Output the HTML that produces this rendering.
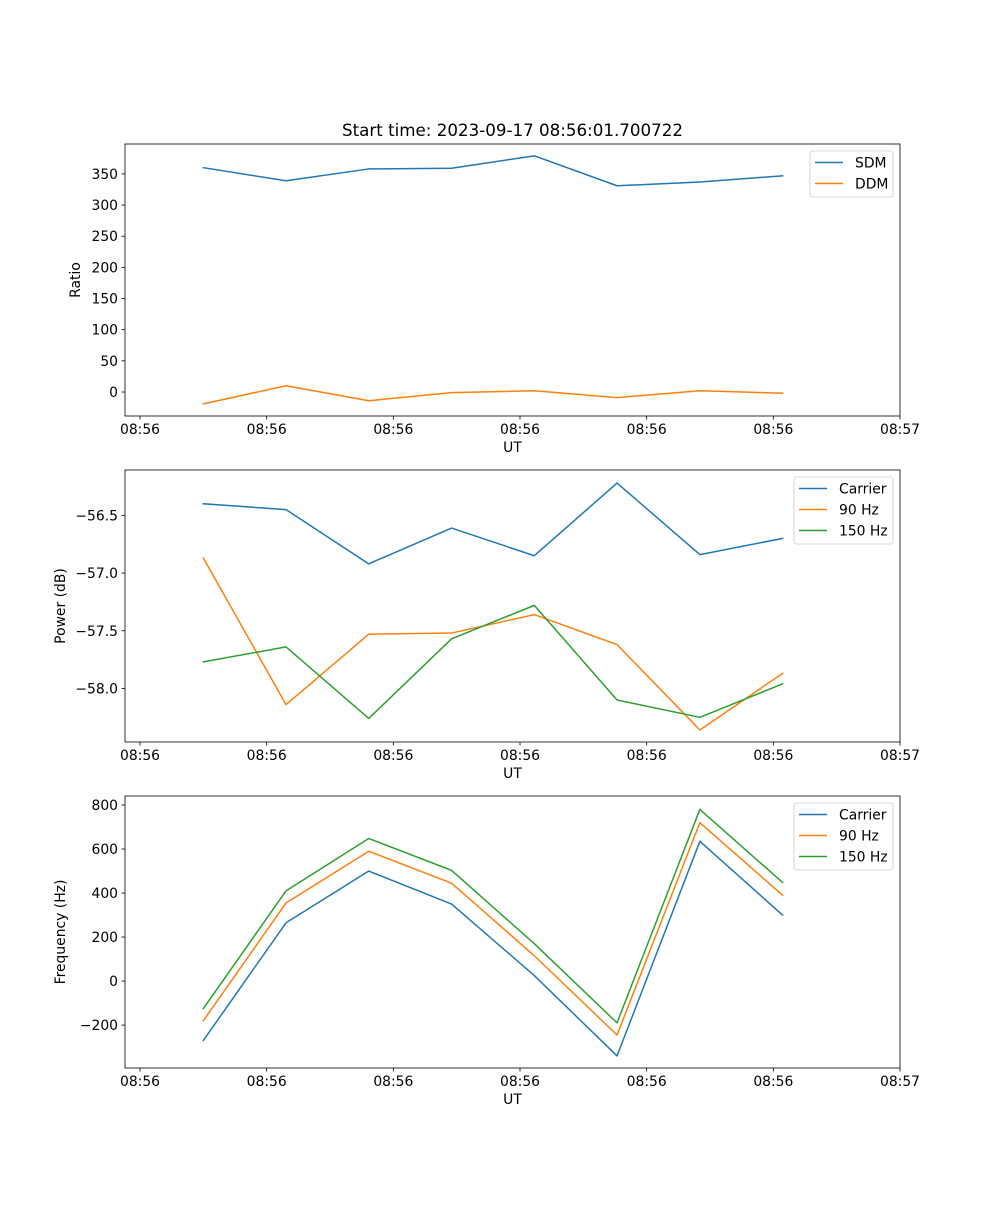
<!DOCTYPE html>
<html><head><meta charset="utf-8"><style>
html,body{margin:0;padding:0;background:#fff;}
svg text{font-family:"DejaVu Sans","Liberation Sans",sans-serif;font-size:13.9px;fill:#000;}
</style></head><body>
<svg id="fig" width="1000" height="1200" viewBox="0 0 1000 1200" xmlns="http://www.w3.org/2000/svg">
<rect width="1000" height="1200" fill="#fff"/>
<text x="512.5" y="136" text-anchor="middle" style="font-size:16.7px">Start time: 2023-09-17 08:56:01.700722</text>
</svg>
<script>
// shared x data (seconds after 08:56:00)
const times = [5.0, 11.53, 18.06, 24.6, 31.13, 37.66, 44.2, 50.73];
const xTickVals = [0, 10, 20, 30, 40, 50, 60];
const xTickLabels = ["08:56","08:56","08:56","08:56","08:56","08:56","08:57"];
// panel 1
const sdm = [360, 339, 358, 359, 379, 331, 337, 347];
const ddm = [-19, 10, -14, -1, 2, -9, 2, -2];
const ratioTicks = [0, 50, 100, 150, 200, 250, 300, 350];
// panel 2
const pCarrier = [-56.40, -56.45, -56.92, -56.61, -56.85, -56.22, -56.84, -56.70];
const p90 = [-56.87, -58.14, -57.53, -57.52, -57.36, -57.62, -58.36, -57.87];
const p150 = [-57.77, -57.64, -58.26, -57.57, -57.28, -58.10, -58.25, -57.96];
const powerTicks = [-58.0, -57.5, -57.0, -56.5];
const powerTickLabels = ["\u221258.0","\u221257.5","\u221257.0","\u221256.5"];
// panel 3
const fCarrier = [-270, 265, 500, 350, 25, -340, 635, 300];
const f90 = [-180, 355, 590, 445, 115, -245, 720, 390];
const f150 = [-125, 410, 648, 503, 170, -190, 780, 448];
const freqTicks = [-200, 0, 200, 400, 600, 800];

const NS = "http://www.w3.org/2000/svg";
const svg = document.getElementById('fig');
const C = ["#1f77b4", "#ff7f0e", "#2ca02c"];
function mk(tag, attrs, parent){
  const e = document.createElementNS(NS, tag);
  for (const k in attrs) e.setAttribute(k, attrs[k]);
  (parent || svg).appendChild(e); return e;
}
const L = 125, R = 900;
const xs = t => 140 + (t - 0) * (760 / 60);
function fmt(v){ return v < 0 ? "\u2212" + Math.abs(v) : String(v); }

function panel(name, top, ymin, ymax, yTicks, yTickLabels, ylabel, series, labels, leg){
  const bot = top + 272;
  const ys = v => bot - (v - ymin) / (ymax - ymin) * 272;
  const g = mk('g', {});
  
  
  // ticks
  xTickVals.forEach((t, i) => {
    const x = xs(t);
    const tk = mk('line', {x1:x, x2:x, y1:bot, y2:bot+3.5, stroke:'#000', 'stroke-width':0.8}, g);
    
    
    const tl = mk('text', {x:x, y:bot+18, 'text-anchor':'middle'}, g);
    
    
    tl.textContent = xTickLabels[i];
  });
  yTicks.forEach((v, i) => {
    const y = ys(v);
    const tk = mk('line', {x1:L-3.5, x2:L, y1:y, y2:y, stroke:'#000', 'stroke-width':0.8}, g);
    
    
    const tl = mk('text', {x:L-7, y:y+5, 'text-anchor':'end'}, g);
    
    
    tl.textContent = yTickLabels ? yTickLabels[i] : fmt(v);
  });
  const xl = mk('text', {x:(L+R)/2, y:bot+36, 'text-anchor':'middle'}, g);
  
  
  xl.textContent = 'UT';
  const ylx = ylabel === 'Ratio' ? 80 : 65;
  const yl = mk('text', {x:ylx, y:top+136, 'text-anchor':'middle', transform:`rotate(-90 ${ylx} ${top+136})`}, g);
  
  
  yl.textContent = ylabel;
  // series
  series.forEach((s, si) => {
    const d = s.map((v, i) => (i ? 'L' : 'M') + xs(times[i]).toFixed(2) + ' ' + ys(v).toFixed(2)).join(' ');
    const p = mk('path', {d:d, fill:'none', stroke:C[si], 'stroke-width':1.5, 'stroke-linejoin':'round', 'stroke-linecap':'square'}, g);
    
    
  });
  const fr = mk('rect', {x:L, y:top, width:R-L, height:272, fill:'none', stroke:'#000', 'stroke-width':0.8}, g);
  
  
  // legend
  const lg = mk('g', {}, g);
  
  
  mk('rect', {x:leg.x, y:leg.y, width:leg.w, height:labels.length*21+4, rx:2.5, fill:'#fff', 'fill-opacity':0.8, stroke:'#ccc', 'stroke-width':0.8}, lg);
  labels.forEach((lab, i) => {
    const y = leg.y + 11.5 + i*21;
    const e = mk('g', {}, lg);
    
    
    mk('line', {x1:leg.x+5, x2:leg.x+33, y1:y, y2:y, stroke:C[i], 'stroke-width':1.5}, e);
    const t = mk('text', {x:leg.x+45, y:y+5}, e);
    t.textContent = lab;
  });
}
panel('ratio-panel', 144, -38.5, 398, ratioTicks, null, 'Ratio', [sdm, ddm], ['SDM','DDM'], {x:810, y:151, w:83});
panel('power-panel', 470, -58.464, -56.107, powerTicks, powerTickLabels, 'Power (dB)', [pCarrier, p90, p150], ['Carrier','90 Hz','150 Hz'], {x:794, y:477, w:99});
panel('frequency-panel', 796, -395, 841, freqTicks, freqTicks.map(fmt), 'Frequency (Hz)', [fCarrier, f90, f150], ['Carrier','90 Hz','150 Hz'], {x:794, y:803, w:99});
</script>
</body></html>
